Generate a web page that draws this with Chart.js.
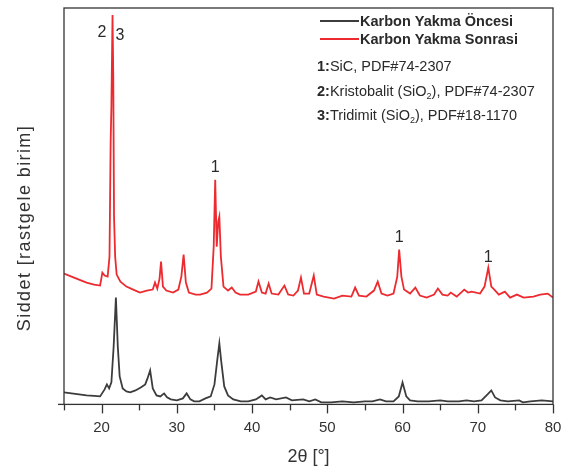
<!DOCTYPE html>
<html>
<head>
<meta charset="utf-8">
<script src="https://cdn.jsdelivr.net/npm/chart.js@4.4.0/dist/chart.umd.min.js"></script>
<style>
  html, body { margin: 0; padding: 0; background: #fff; }
  #wrap { width: 561px; height: 469px; }
</style>
</head>
<body>
<div id="wrap"><canvas id="xrdChart" width="561" height="469"></canvas></div>
<script>
// 2θ values and intensities (arbitrary units)
const beforeAngles = [15, 16, 17, 18, 19, 19.8, 20.4, 20.7, 21.0, 21.3, 21.6, 21.9, 22.15, 22.4, 22.8, 23.3, 23.8, 24.5, 25.2, 25.8, 26.1, 26.45, 26.8, 27.3, 27.8, 28.3, 28.7, 29.2, 30, 30.8, 31.3, 31.8, 32.3, 33, 33.8, 34.5, 35.0, 35.4, 35.65, 35.9, 36.3, 36.8, 37.5, 38.5, 39.5, 40.5, 41.3, 41.8, 42.4, 43.2, 44.5, 45.3, 46.8, 47.6, 48.4, 49.2, 50.5, 52, 53.5, 55, 56, 57, 57.8, 58.8, 59.5, 60.0, 60.5, 61, 62, 63.5, 65, 66, 67.5, 68.5, 69.5, 70.5, 71.3, 71.8, 72.3, 73, 74, 75.5, 76, 77, 78.5, 80];
const beforeIntensity = [14, 13, 12, 11, 10.5, 10, 17, 22, 18, 24, 60, 109, 60, 30, 18, 15, 14, 16, 19, 22, 28, 36, 18, 11, 10, 13, 9, 7, 6, 8, 13, 7, 5, 5, 8, 10, 22, 48, 63, 45, 20, 11, 7, 5, 5, 7, 11, 7, 9, 7, 9, 6, 7, 5, 7, 4, 4, 5, 4, 5, 5, 7, 5, 5, 10, 24, 10, 6, 5, 5, 6, 5, 5, 6, 5, 6, 12, 16, 9, 6, 5, 6, 4, 5, 6, 5];

const afterAngles = [15, 16, 17, 18, 19, 19.8, 20.1, 20.4, 20.8, 21.05, 21.2, 21.3, 21.45, 21.55, 21.65, 21.8, 22.0, 22.5, 23.3, 24.2, 25.1, 26, 26.8, 27.1, 27.4, 27.7, 27.9, 28.15, 28.6, 29.5, 30.2, 30.6, 30.9, 31.2, 31.6, 32.5, 33.1, 34, 34.6, 34.9, 35.1, 35.3, 35.5, 35.65, 35.85, 36.2, 36.8, 37.3, 37.8, 38.4, 39.5, 40.5, 40.85, 41.3, 41.8, 42.2, 42.6, 43.5, 44.3, 44.8, 45.5, 46.1, 46.5, 46.9, 47.6, 48.2, 48.6, 49.5, 50.9, 52, 53.2, 53.7, 54.2, 55.2, 56.2, 56.7, 57.2, 58, 58.8, 59.3, 59.55, 59.85, 60.2, 61, 61.7, 62.3, 63.2, 64.2, 64.7, 65.3, 66, 66.4, 67.2, 68.2, 68.7, 69.2, 70.3, 70.9, 71.4, 71.8, 72.2, 72.8, 73.6, 74.3, 75.2, 76.1, 77.4, 78.3, 79.3, 80];
const afterIntensity = [133, 130, 127, 124, 122, 121, 134, 131, 130, 150, 265, 300, 392, 330, 190, 150, 132, 125, 120, 117, 114, 116, 117, 124, 118, 128, 145, 120, 116, 114, 117, 130, 152, 124, 114, 112, 112, 114, 118, 160, 227, 160, 185, 190, 150, 120, 116, 119, 114, 112, 112, 115, 125, 114, 113, 123, 113, 112, 121, 112, 111, 116, 129, 113, 113, 131, 112, 110, 108, 111, 110, 119, 111, 110, 116, 125, 113, 111, 113, 130, 157, 130, 117, 113, 119, 111, 109, 112, 118, 112, 111, 114, 110, 117, 114, 115, 113, 120, 139, 120, 117, 112, 115, 109, 112, 109, 110, 112, 113, 109];

const seriesNames = ["Karbon Yakma Öncesi", "Karbon Yakma Sonrasi"];
const seriesColors = ["#3c3c3c", "#ec2a2f"];

// peak markers: text, 2θ, intensity where the label sits
const peakTexts = ["2", "3", "1", "1", "1"];
const peakAngles = [20.05, 22.45, 35.1, 59.55, 71.4];
const peakLevels = [374, 371, 239, 169, 149];

// phase list shown under the legend
const phaseIds = ["1:", "2:", "3:"];
const phaseNames = [["SiC, PDF#74-2307"], ["Kristobalit (SiO", "2", "), PDF#74-2307"], ["Tridimit (SiO", "2", "), PDF#18-1170"]];

const xMin = 15, xMax = 80, xStep = 5;
const yMin = 2, yMax = 399;

const toPoints = (xs, ys) => xs.map((x, i) => ({ x, y: ys[i] }));

const FONT = "'Liberation Sans', Arial, sans-serif";
const INK = "#2a2a2a";

const overlay = {
  id: "overlay",
  afterDraw(chart) {
    const { ctx, chartArea: a, scales } = chart;
    ctx.save();
    // frame
    ctx.strokeStyle = "#333";
    ctx.lineWidth = 1.3;
    ctx.strokeRect(a.left, a.top, a.right - a.left, a.bottom - a.top);

    // x ticks (long at labelled values, short between)
    for (let v = xMin; v <= xMax; v += xStep) {
      const px = Math.round(scales.x.getPixelForValue(v)) + 0.5;
      const len = v % 10 === 0 ? 9 : 6;
      ctx.beginPath();
      ctx.moveTo(px, a.bottom);
      ctx.lineTo(px, a.bottom + len);
      ctx.stroke();
    }
    // small y tick at the bottom left corner
    ctx.beginPath();
    ctx.moveTo(a.left - 6, a.bottom);
    ctx.lineTo(a.left, a.bottom);
    ctx.stroke();

    // peak labels
    ctx.fillStyle = INK;
    ctx.font = "16px " + FONT;
    ctx.textAlign = "center";
    ctx.textBaseline = "middle";
    peakTexts.forEach((t, i) => {
      ctx.fillText(t, scales.x.getPixelForValue(peakAngles[i]), scales.y.getPixelForValue(peakLevels[i]));
    });

    // legend
    ctx.textAlign = "left";
    const lineRows = [21, 39];
    const textRows = [22, 40];
    seriesNames.forEach((name, i) => {
      ctx.strokeStyle = seriesColors[i];
      ctx.lineWidth = 2;
      ctx.beginPath();
      ctx.moveTo(320, lineRows[i]);
      ctx.lineTo(359, lineRows[i]);
      ctx.stroke();
      ctx.fillStyle = INK;
      ctx.font = "bold 14.5px " + FONT;
      ctx.fillText(name, 360, textRows[i]);
    });

    // phase list
    const rows = [67, 92, 116];
    phaseIds.forEach((id, i) => {
      let x = 317;
      const y = rows[i];
      ctx.font = "bold 14.5px " + FONT;
      ctx.fillStyle = INK;
      ctx.fillText(id, x, y);
      x += ctx.measureText(id).width;
      phaseNames[i].forEach((part, j) => {
        if (j === 1) {
          ctx.font = "9px " + FONT;
          ctx.fillText(part, x, y + 5);
        } else {
          ctx.font = "14.5px " + FONT;
          ctx.fillText(part, x, y);
        }
        x += ctx.measureText(part).width;
      });
    });

    // y axis title
    ctx.font = "18px " + FONT;
    ctx.letterSpacing = "1.4px";
    ctx.fillStyle = "#333";
    ctx.textAlign = "center";
    ctx.translate(25, 228);
    ctx.rotate(-Math.PI / 2);
    ctx.fillText("Siddet [rastgele birim]", 0, 0);
    ctx.restore();
  }
};

new Chart(document.getElementById("xrdChart"), {
  type: "line",
  data: {
    datasets: [
      {
        label: seriesNames[0],
        data: toPoints(beforeAngles, beforeIntensity),
        borderColor: seriesColors[0],
        borderWidth: 1.8,
        pointRadius: 0,
        tension: 0
      },
      {
        label: seriesNames[1],
        data: toPoints(afterAngles, afterIntensity),
        borderColor: seriesColors[1],
        borderWidth: 1.8,
        pointRadius: 0,
        tension: 0
      }
    ]
  },
  options: {
    responsive: false,
    animation: false,
    layout: { padding: { left: 64, right: 8, top: 8, bottom: 1 } },
    plugins: {
      legend: { display: false },
      tooltip: { enabled: false }
    },
    scales: {
      x: {
        type: "linear",
        min: xMin,
        max: xMax,
        afterFit: s => { s.paddingLeft = 0; s.paddingRight = 0; },
        border: { display: false },
        grid: { drawOnChartArea: false, tickLength: 9, color: "rgba(0,0,0,0)" },
        ticks: {
          stepSize: xStep,
          autoSkip: false,
          maxRotation: 0,
          color: "#333",
          font: { family: FONT, size: 15 },
          padding: 5,
          callback: v => (v % 10 === 0 ? v : "")
        },
        title: {
          display: true,
          text: "2θ [°]",
          color: "#333",
          font: { family: FONT, size: 18 },
          padding: { top: 5, bottom: 0 }
        }
      },
      y: {
        display: false,
        min: yMin,
        max: yMax
      }
    }
  },
  plugins: [overlay]
});
</script>
</body>
</html>
